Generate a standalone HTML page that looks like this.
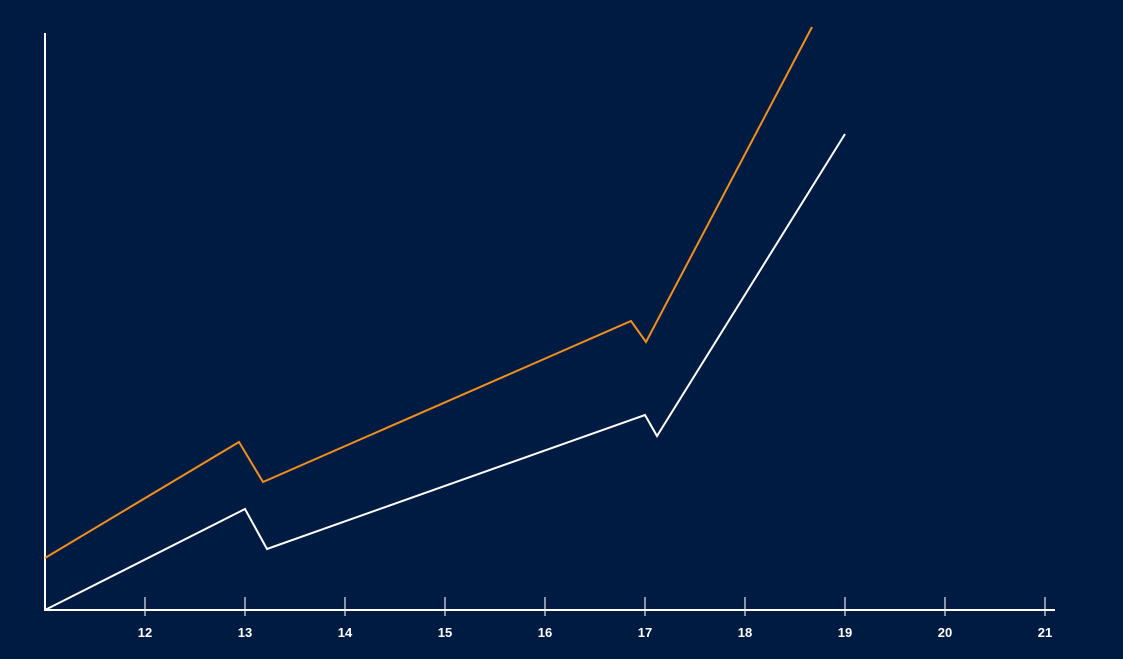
<!DOCTYPE html>
<html><head><meta charset="utf-8"><style>
html,body{margin:0;padding:0;background:#001b41;}
svg{display:block;}
text{font-family:"Liberation Sans",sans-serif;font-weight:bold;font-size:13px;fill:#fff;}
</style></head><body>
<svg id="chart" width="1123" height="659" xmlns="http://www.w3.org/2000/svg">
<rect width="1123" height="659" fill="#001b41"/>
<g id="ticks"></g>
<line x1="45" y1="33" x2="45" y2="610" stroke="#fff" stroke-width="2"/>
<line x1="44" y1="610" x2="1055" y2="610" stroke="#fff" stroke-width="2"/>
<g id="series"></g>
</svg>
<script>
const tickValues = [12,13,14,15,16,17,18,19,20,21];
const whiteX = [11, 13, 13.22, 17, 17.12, 19];
const whiteY = [0, 101, 61, 195, 174, 476];
const orangeX = [11, 12.94, 13.18, 16.86, 17.01, 18.67];
const orangeY = [52, 168, 128, 289, 268, 583];

const NS = "http://www.w3.org/2000/svg";
function xs(v){ return 45 + (v - 11) * 100; }
function ys(v){ return 610 - v; }
const tg = document.getElementById('ticks');
tickValues.forEach(t => {
  const l = document.createElementNS(NS, 'line');
  l.setAttribute('x1', xs(t)); l.setAttribute('x2', xs(t));
  l.setAttribute('y1', 597); l.setAttribute('y2', 616);
  l.setAttribute('stroke', '#8a94a6'); l.setAttribute('stroke-width', 2);
  
  
  tg.appendChild(l);
  const tx = document.createElementNS(NS, 'text');
  tx.setAttribute('x', xs(t)); tx.setAttribute('y', 637);
  tx.setAttribute('text-anchor', 'middle');
  tx.textContent = t;
  
  
  tg.appendChild(tx);
});
const sg = document.getElementById('series');
function drawLine(xArr, yArr, color, name){
  const p = document.createElementNS(NS, 'polyline');
  p.setAttribute('points', xArr.map((x,i) => xs(x) + ',' + ys(yArr[i])).join(' '));
  p.setAttribute('fill', 'none'); p.setAttribute('stroke', color);
  p.setAttribute('stroke-width', 2);
  
  
  sg.appendChild(p);
}
drawLine(orangeX, orangeY, '#f0901e', 'orange-series-line');
drawLine(whiteX, whiteY, '#ffffff', 'white-series-line');
</script>
</body></html>
